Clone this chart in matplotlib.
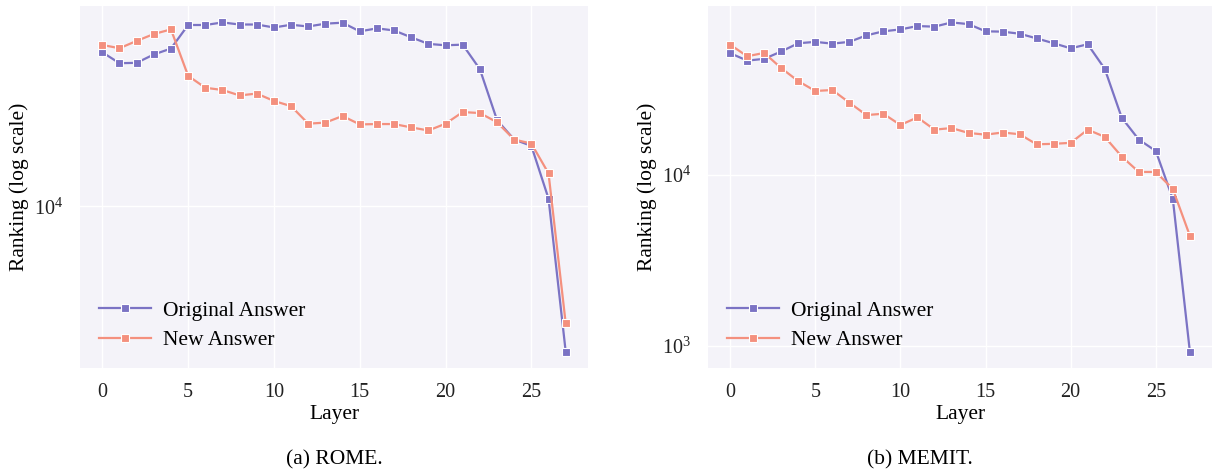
import matplotlib
matplotlib.use("Agg")
import matplotlib.pyplot as plt
import numpy as np

layers = list(range(28))

rome_original = [54700, 48500, 48700, 53400, 57000, 73900, 73900, 76000, 74300, 74300,
                 71900, 74100, 72700, 75000, 75800, 68900, 71200, 69600, 64500, 60000,
                 59100, 59500, 45400, 25900, 20900, 19500, 10900, 2020]
rome_new = [59300, 57200, 62000, 66900, 70400, 42200, 37000, 36100, 34000, 34700,
            32000, 30200, 24900, 25200, 27100, 24700, 24800, 24800, 23900, 23100,
            24900, 28300, 28000, 25300, 20900, 20000, 14400, 2760]

memit_original = [51600, 46700, 47800, 52800, 59000, 60100, 58700, 60100, 65600, 69300,
                  71100, 74400, 73800, 78100, 76400, 69300, 69000, 67100, 63000, 59000,
                  55100, 58200, 41800, 21600, 16100, 13800, 7220, 923]
memit_new = [57900, 49500, 51800, 42200, 35400, 31000, 31400, 26500, 22400, 22800,
             19600, 21700, 18400, 18800, 17600, 17200, 17700, 17300, 15100, 15200,
             15400, 18400, 16700, 12800, 10400, 10400, 8260, 4400]

series_labels = ["Original Answer", "New Answer"]
captions = ["(a) ROME.", "(b) MEMIT."]
xticks = [0, 5, 10, 15, 20, 25]

plt.rcParams['font.family'] = ['Liberation Serif', 'DejaVu Serif']
plt.rcParams['mathtext.fontset'] = 'stix'

c_orig = "#7B73C4"
c_new = "#F4907E"
bg = "#F4F3F9"

fig = plt.figure(figsize=(12.17, 4.74), dpi=100)
W, H = 1217, 474
axes = [fig.add_axes([80 / W, 1 - 368 / H, (588 - 80) / W, (368 - 6) / H]),
        fig.add_axes([708 / W, 1 - 368 / H, (1212 - 708) / W, (368 - 6) / H])]
cap_x = [334, 920]

data = [(rome_original, rome_new), (memit_original, memit_new)]
for ax, (orig, new), cap, cx in zip(axes, data, captions, cap_x):
    ax.set_facecolor(bg)
    for s in ax.spines.values():
        s.set_visible(False)
    ax.grid(True, color="white", linewidth=1.0)
    ax.set_axisbelow(True)
    ax.plot(layers, orig, color=c_orig, marker='s', markersize=5.5,
            markeredgecolor='white', markeredgewidth=0.8, linewidth=1.6,
            label=series_labels[0])
    ax.plot(layers, new, color=c_new, marker='s', markersize=5.5,
            markeredgecolor='white', markeredgewidth=0.8, linewidth=1.6,
            label=series_labels[1])
    ax.set_yscale('log')
    ax.yaxis.set_minor_locator(matplotlib.ticker.NullLocator())
    ax.set_xticks(xticks)
    ax.tick_params(axis='both', length=0, labelsize=14.5, colors='#222222')
    ax.tick_params(axis='x', pad=11)
    ax.tick_params(axis='y', pad=12)
    ax.set_xlabel("Layer", fontsize=15.5, labelpad=2)
    ax.set_ylabel("Ranking (log scale)", fontsize=15.5, labelpad=4)
    ax.set_xlim(-1.3, 28.3)
    ax.legend(loc='lower left', frameon=False, fontsize=15.5,
              bbox_to_anchor=(0.0, -0.005), handlelength=2.4, labelspacing=0.45,
              handletextpad=0.55)
    fig.text(cx / W, 1 - 460 / H, cap, ha='center', va='center', fontsize=15.5)

fig.savefig("out.png", dpi=100)
